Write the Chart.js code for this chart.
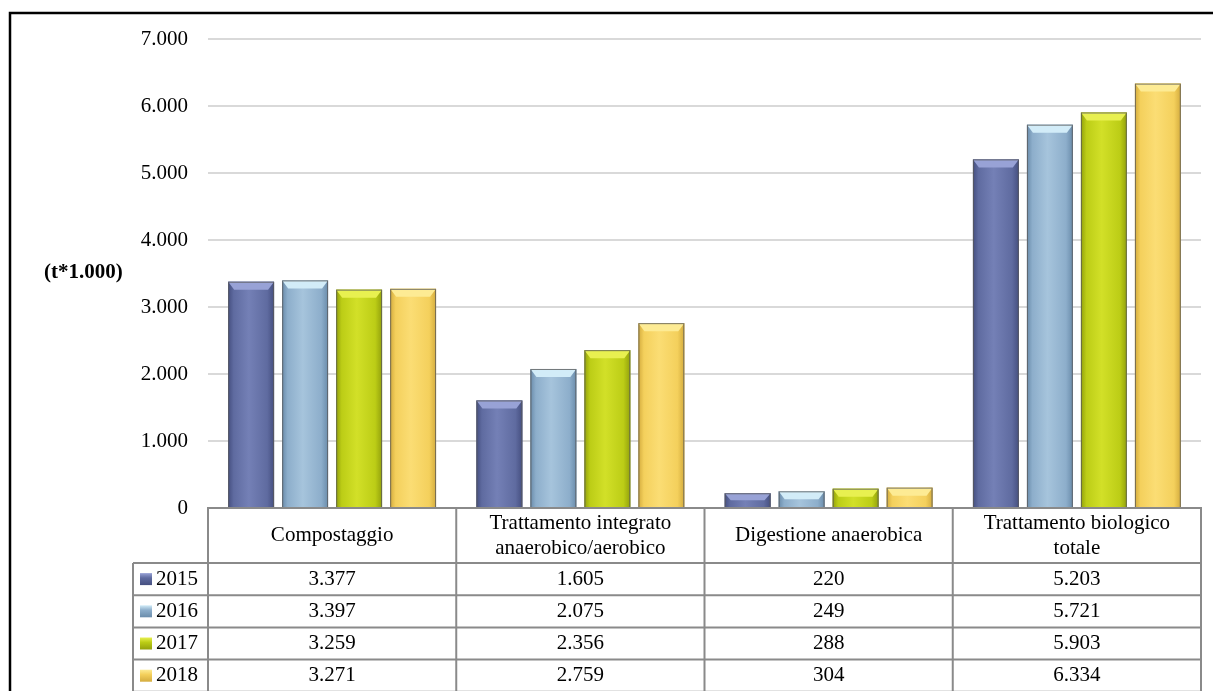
<!DOCTYPE html>
<html>
<head>
<meta charset="utf-8">
<script src="https://cdn.jsdelivr.net/npm/chart.js@4.4.0/dist/chart.umd.min.js"></script>
<style>
body{margin:0;background:#fff}
#box{width:1213px;height:691px}
</style>
</head>
<body>
<div id="box"><canvas id="grafico" width="1213" height="691"></canvas></div>
<script>
// dati
const categorie = [['Compostaggio'], ['Trattamento integrato', 'anaerobico/aerobico'], ['Digestione anaerobica'], ['Trattamento biologico', 'totale']];
const anni = ['2015', '2016', '2017', '2018'];
const valori2015 = [3377, 1605, 220, 5203];
const valori2016 = [3397, 2075, 249, 5721];
const valori2017 = [3259, 2356, 288, 5903];
const valori2018 = [3271, 2759, 304, 6334];
const tickY = [0, 1000, 2000, 3000, 4000, 5000, 6000, 7000];
const unita = '(t*1.000)';

// colori: base, scuro, chiaro, smusso
const colori = [
  ['#5f6ba0', '#454f80', '#7480b6', '#98a2d6'],
  ['#8daecb', '#6a8cab', '#a6c4dc', '#d2ecf8'],
  ['#bccd16', '#93a10c', '#d2e028', '#e8f050'],
  ['#f4d05c', '#d4ac3e', '#fbdd74', '#fdeb94']
];
const serie = [valori2015, valori2016, valori2017, valori2018];
const FONT = '"Liberation Serif", "Times New Roman", serif';

function formatta(n){
  return String(n).replace(/\B(?=(\d{3})+(?!\d))/g, '.');
}

const barre3d = {
  id: 'barre3d',
  afterDatasetsDraw(chart){
    const ctx = chart.ctx;
    chart.data.datasets.forEach((ds, i) => {
      const c = colori[i];
      chart.getDatasetMeta(i).data.forEach(el => {
        const l = el.x - el.width/2, r = el.x + el.width/2;
        const t = el.y, b = el.base;
        ctx.save();
        const g = ctx.createLinearGradient(l, 0, r, 0);
        g.addColorStop(0, c[1]);
        g.addColorStop(0.12, c[0]);
        g.addColorStop(0.45, c[2]);
        g.addColorStop(0.85, c[0]);
        g.addColorStop(1, c[1]);
        ctx.fillStyle = g;
        ctx.fillRect(l, t, r - l, b - t);
        const h = Math.min(8, (b - t)/2);
        ctx.beginPath();
        ctx.moveTo(l, t); ctx.lineTo(r, t);
        ctx.lineTo(r - 6, t + h); ctx.lineTo(l + 6, t + h);
        ctx.closePath();
        ctx.fillStyle = c[3];
        ctx.fill();
        ctx.strokeStyle = 'rgba(90,90,90,0.8)';
        ctx.lineWidth = 1;
        ctx.strokeRect(l + 0.5, t + 0.5, r - l - 1, b - t);
        ctx.restore();
      });
    });
  }
};

const tabella = {
  id: 'tabella',
  afterDraw(chart){
    const ctx = chart.ctx;
    const xs = chart.scales.x;
    const area = chart.chartArea;
    const n = categorie.length;
    const cw = (xs.right - xs.left)/n;
    const top = area.bottom;
    const headH = 55, rowH = 32.2;
    const legL = 133;
    const bottom = top + headH + rowH*anni.length;
    ctx.save();
    ctx.strokeStyle = '#8a8a8a';
    ctx.lineWidth = 2;
    // bordo intestazione
    ctx.beginPath();
    ctx.moveTo(xs.left, bottom); ctx.lineTo(xs.left, top); ctx.lineTo(xs.right, top); ctx.lineTo(xs.right, bottom);
    for(let i = 1; i < n; i++){
      ctx.moveTo(xs.left + i*cw, top); ctx.lineTo(xs.left + i*cw, bottom);
    }
    for(let r = 0; r <= anni.length; r++){
      const y = top + headH + r*rowH;
      ctx.moveTo(legL, y); ctx.lineTo(xs.right, y);
    }
    ctx.moveTo(legL, top + headH); ctx.lineTo(legL, bottom);
    ctx.stroke();

    ctx.fillStyle = '#000';
    ctx.font = '21px ' + FONT;
    ctx.textAlign = 'center';
    ctx.textBaseline = 'middle';
    categorie.forEach((righe, i) => {
      const cx = xs.getPixelForValue(i);
      const cy = top + headH/2;
      righe.forEach((t, k) => {
        ctx.fillText(t, cx, cy + (k - (righe.length - 1)/2)*25);
      });
    });
    serie.forEach((vals, r) => {
      const cy = top + headH + r*rowH + rowH/2;
      vals.forEach((v, i) => {
        ctx.fillText(formatta(v), xs.getPixelForValue(i), cy);
      });
      // legenda
      const c = colori[r];
      const sx = legL + 7, sy = cy - 6;
      const g = ctx.createLinearGradient(sx, sy, sx, sy + 12);
      g.addColorStop(0, c[3]); g.addColorStop(0.4, c[0]); g.addColorStop(1, c[1]);
      ctx.fillStyle = g;
      ctx.fillRect(sx, sy, 12, 12);
      ctx.fillStyle = '#000';
      ctx.textAlign = 'left';
      ctx.fillText(anni[r], legL + 23, cy);
      ctx.textAlign = 'center';
    });

    // unità
    ctx.font = 'bold 21px ' + FONT;
    ctx.textAlign = 'left';
    ctx.fillText(unita, 44, 273);

    // cornice
    ctx.strokeStyle = '#000';
    ctx.lineWidth = 2.5;
    ctx.beginPath();
    ctx.moveTo(10, 691); ctx.lineTo(10, 13); ctx.lineTo(1213, 13);
    ctx.stroke();
    ctx.restore();
  }
};

const ctx = document.getElementById('grafico').getContext('2d');
new Chart(ctx, {
  type: 'bar',
  data: {
    labels: categorie.map(c => c.join(' ')),
    datasets: anni.map((a, i) => ({
      label: a,
      data: serie[i],
      backgroundColor: colori[i][0],
      borderWidth: 0,
      categoryPercentage: 0.87,
      barPercentage: 0.85
    }))
  },
  options: {
    responsive: false,
    animation: false,
    events: [],
    layout: { padding: { top: 39, right: 12, bottom: 183, left: 0 } },
    plugins: { legend: { display: false }, tooltip: { enabled: false } },
    scales: {
      x: { display: false },
      y: {
        min: 0,
        max: tickY[tickY.length - 1],
        afterBuildTicks(s){ s.ticks = tickY.map(v => ({ value: v })); },
        afterFit(s){ s.width = 208; },
        border: { display: false },
        grid: { color: '#d9d9d9', lineWidth: 2, drawTicks: false },
        ticks: {
          padding: 20,
          color: '#000',
          font: { family: FONT, size: 21 },
          callback: v => formatta(v)
        }
      }
    }
  },
  plugins: [barre3d, tabella]
});
</script>
</body>
</html>
